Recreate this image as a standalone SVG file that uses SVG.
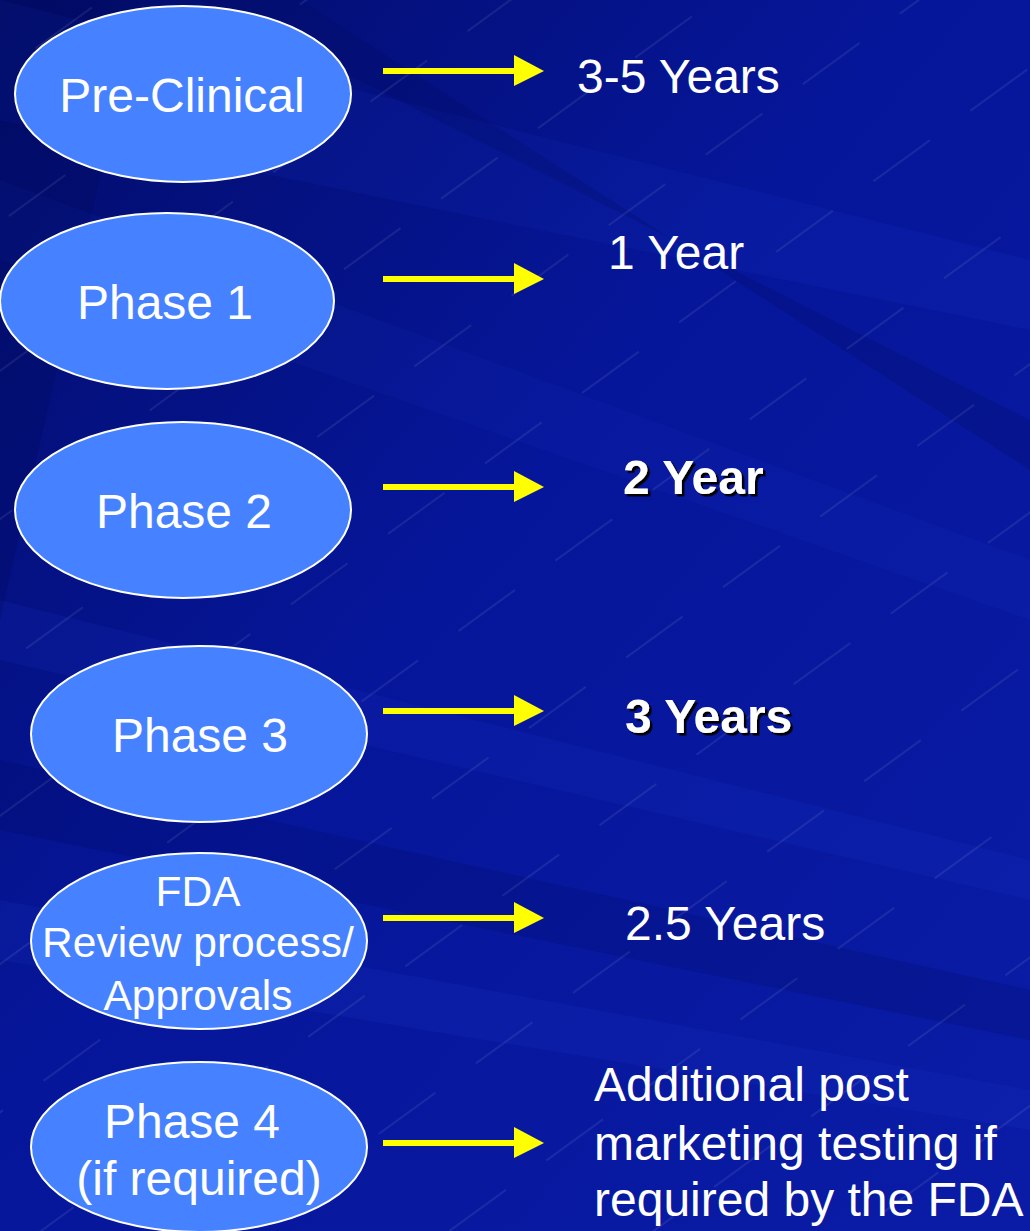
<svg xmlns="http://www.w3.org/2000/svg" width="1030" height="1231" viewBox="0 0 1030 1231">
<defs>
<linearGradient id="bg" x1="0" y1="0" x2="1" y2="1">
<stop offset="0" stop-color="#020c68"/>
<stop offset="0.45" stop-color="#06169a"/>
<stop offset="1" stop-color="#0a1ca6"/>
</linearGradient>
<pattern id="hatch" patternUnits="userSpaceOnUse" width="120" height="120" patternTransform="rotate(-36)">
<line x1="0" y1="60" x2="120" y2="60" stroke="#ffffff" stroke-width="0.8" stroke-opacity="0.2" stroke-dasharray="70 50"/>
</pattern>
<filter id="shadow" x="-10%" y="-10%" width="130%" height="140%">
<feDropShadow dx="2.5" dy="2.5" stdDeviation="0" flood-color="#000000" flood-opacity="1"/>
</filter>
<style>
.node ellipse{fill:#4682ff;stroke:#ffffff;stroke-width:2}
.lbl{font-family:"Liberation Sans",Arial,sans-serif;fill:#ffffff;font-size:48px}
.lbl-s{font-size:42.5px}
.mid{text-anchor:middle}
.bold{font-weight:bold;filter:url(#shadow)}
.arrow{fill:#ffff00}
</style>
</defs>
<g id="background">
<rect width="1030" height="1231" fill="url(#bg)"/>
<polygon points="0,0 1030,260 1030,330 0,120" fill="#1a3ad0" fill-opacity="0.12"/>
<polygon points="0,180 1030,560 1030,620 0,260" fill="#1a3ad0" fill-opacity="0.10"/>
<polygon points="200,0 1030,420 1030,470 300,0" fill="#000a60" fill-opacity="0.25"/>
<polygon points="0,600 1030,860 1030,900 0,660" fill="#1a3ad0" fill-opacity="0.14"/>
<polygon points="0,760 1030,990 1030,1040 0,830" fill="#000a60" fill-opacity="0.22"/>
<polygon points="0,900 1030,1090 1030,1130 0,960" fill="#2040d8" fill-opacity="0.12"/>
<polygon points="0,0 140,0 0,620" fill="#000858" fill-opacity="0.25"/>
<rect width="1030" height="1231" fill="url(#hatch)"/>
</g>
<g id="connectors">
<path class="arrow" d="M383,68 h131 v-13 l30,16 l-30,15 v-12 h-131 z"/>
<path class="arrow" d="M383,276 h131 v-13 l30,16 l-30,15 v-12 h-131 z"/>
<path class="arrow" d="M383,484 h131 v-13 l30,16 l-30,15 v-12 h-131 z"/>
<path class="arrow" d="M383,708 h131 v-13 l30,16 l-30,15 v-12 h-131 z"/>
<path class="arrow" d="M383,915 h131 v-13 l30,16 l-30,15 v-12 h-131 z"/>
<path class="arrow" d="M383,1140 h131 v-13 l30,16 l-30,15 v-12 h-131 z"/>
</g>
<g id="node-preclinical" class="node">
<ellipse cx="183" cy="94" rx="168" ry="88"/>
<text class="lbl mid" x="182" y="112">Pre-Clinical</text>
</g>
<g id="node-phase1" class="node">
<ellipse cx="167" cy="301" rx="167" ry="88"/>
<text class="lbl mid" x="165" y="319">Phase 1</text>
</g>
<g id="node-phase2" class="node">
<ellipse cx="183" cy="510" rx="168" ry="88"/>
<text class="lbl mid" x="184" y="528">Phase 2</text>
</g>
<g id="node-phase3" class="node">
<ellipse cx="199" cy="734" rx="168" ry="88"/>
<text class="lbl mid" x="200" y="752">Phase 3</text>
</g>
<g id="node-fda" class="node">
<ellipse cx="199" cy="941" rx="168" ry="88"/>
<text class="lbl lbl-s mid" x="198" y="906">FDA</text>
<text class="lbl lbl-s mid" x="198" y="957">Review process/</text>
<text class="lbl lbl-s mid" x="198" y="1010">Approvals</text>
</g>
<g id="node-phase4" class="node">
<ellipse cx="199" cy="1147" rx="168" ry="85"/>
<text class="lbl mid" x="192" y="1138">Phase 4</text>
<text class="lbl mid" x="199" y="1195">(if required)</text>
</g>
<g id="durations">
<text id="t-preclinical" class="lbl" x="577" y="93">3-5 Years</text>
<text id="t-phase1" class="lbl" x="608" y="269">1 Year</text>
<text id="t-phase2" class="lbl bold" x="623" y="494">2 Year</text>
<text id="t-phase3" class="lbl bold" x="625" y="733">3 Years</text>
<text id="t-fda" class="lbl" x="625" y="940">2.5 Years</text>
<text id="t-phase4" class="lbl">
<tspan x="594" y="1101">Additional post</tspan>
<tspan x="594" y="1160">marketing testing if</tspan>
<tspan x="594" y="1216">required by the FDA</tspan>
</text>
</g>
</svg>
